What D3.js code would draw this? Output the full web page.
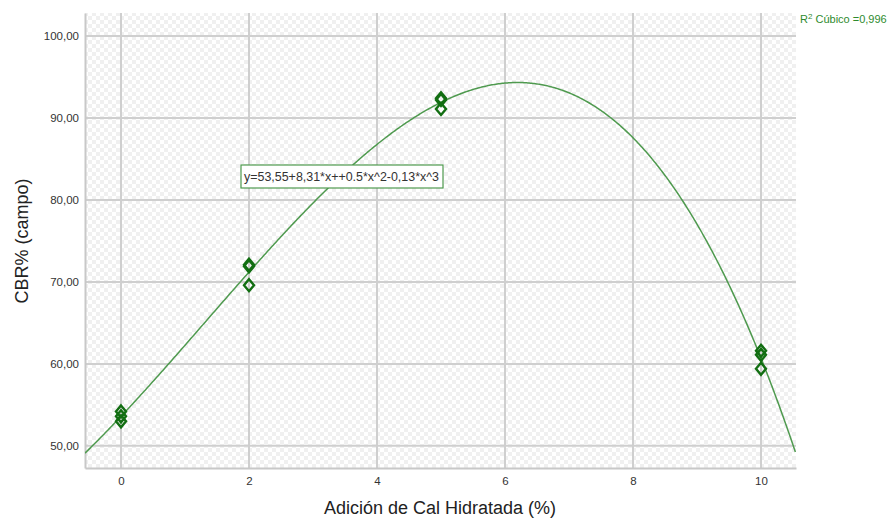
<!DOCTYPE html>
<html><head><meta charset="utf-8">
<script src="https://cdn.jsdelivr.net/npm/d3@7"></script>
<style>body{margin:0;background:#fff;}svg{display:block;font-family:"Liberation Sans",Arial,sans-serif;}</style>
</head><body>
<svg id="c" width="888" height="519"></svg>
<script>
const xValues = [0,0,0, 2,2,2, 5,5,5, 10,10,10];
const yValues = [54.2,53.6,53.0, 72.1,71.9,69.6, 92.4,92.2,91.1, 61.6,61.1,59.4];
const xTicks = [0,2,4,6,8,10];
const yTicks = [50,60,70,80,90,100];
const xTitle = "Adición de Cal Hidratada (%)";
const yTitle = "CBR% (campo)";
const equationText = "y=53,55+8,31*x++0.5*x^2-0,13*x^3";
const r2Text = "Cúbico =0,996";

// least-squares cubic fit from the data
function fitCubic(xs, ys){
  const n=4, A=[...Array(n)].map(()=>Array(n+1).fill(0));
  xs.forEach((x,k)=>{for(let i=0;i<n;i++){for(let j=0;j<n;j++)A[i][j]+=Math.pow(x,i+j);A[i][n]+=ys[k]*Math.pow(x,i);}});
  for(let i=0;i<n;i++){let p=i;for(let r=i+1;r<n;r++)if(Math.abs(A[r][i])>Math.abs(A[p][i]))p=r;[A[i],A[p]]=[A[p],A[i]];
    for(let r=0;r<n;r++){if(r===i)continue;const f=A[r][i]/A[i][i];for(let c=i;c<=n;c++)A[r][c]-=f*A[i][c];}}
  return A.map((row,i)=>row[n]/row[i]);
}
const coef = fitCubic(xValues, yValues);
const poly = x => coef[0]+coef[1]*x+coef[2]*x*x+coef[3]*x*x*x;

const svg = d3.select("#c");
const L=85, R=796, T=13, B=468;
const x = d3.scaleLinear().domain([-0.5625,10.547]).range([L,R]);
const y = d3.scaleLinear().domain([47.3,102.8]).range([B,T]);

const defs = svg.append("defs");
const pat = defs.append("pattern").attr("id","chk").attr("width",8).attr("height",8).attr("patternUnits","userSpaceOnUse");
pat.append("rect").attr("width",8).attr("height",8).attr("fill","#ffffff");
pat.append("rect").attr("width",4).attr("height",4).attr("fill","#f0f0f0");
pat.append("rect").attr("x",4).attr("y",4).attr("width",4).attr("height",4).attr("fill","#f0f0f0");
defs.append("clipPath").attr("id","clip").append("rect").attr("x",L).attr("y",T).attr("width",R-L).attr("height",B-T);

svg.append("rect").attr("x",L).attr("y",T).attr("width",R-L).attr("height",B-T).attr("fill","url(#chk)");

// gridlines
svg.append("g").selectAll("line").data(xTicks).join("line")
  .attr("x1",d=>x(d)).attr("x2",d=>x(d)).attr("y1",T).attr("y2",B)
  .attr("stroke","#cfcfcf").attr("stroke-width",2);
svg.append("g").selectAll("line").data(yTicks).join("line")
  .attr("x1",L).attr("x2",R).attr("y1",d=>y(d)).attr("y2",d=>y(d))
  .attr("stroke","#cfcfcf").attr("stroke-width",2);

// axes
const fmt = d => d3.format(".2f")(d).replace(".",",");
const xAxis = svg.append("g").attr("transform",`translate(0,${B})`)
  .call(d3.axisBottom(x).tickValues(xTicks).tickSize(0).tickPadding(9).tickFormat(d3.format("d")));
const yAxis = svg.append("g").attr("transform",`translate(${L},0)`)
  .call(d3.axisLeft(y).tickValues(yTicks).tickSize(0).tickPadding(6).tickFormat(fmt));
[xAxis,yAxis].forEach(g=>{
  g.select(".domain").attr("stroke","#c8c8c8").attr("stroke-width",2);
  g.selectAll("text").attr("font-size",11.5).attr("fill","#333").attr("font-family","Liberation Sans, Arial, sans-serif");
});

// curve
const xs = d3.range(-0.5625, 10.55, 0.02);
svg.append("path").attr("clip-path","url(#clip)")
  .datum(xs).attr("fill","none").attr("stroke","#4f9a4f").attr("stroke-width",1.5)
  .attr("d", d3.line().x(d=>x(d)).y(d=>y(poly(d))));

// markers
const pts = xValues.map((v,i)=>({x:v,y:yValues[i]}));
svg.append("g").selectAll("path").data(pts).join("path")
  .attr("transform",d=>`translate(${x(d.x)},${y(d.y)})`)
  .attr("d","M0,-6L5,0L0,6L-5,0Z")
  .attr("fill","none").attr("stroke","#126e12").attr("stroke-width",2.4);

// equation box
const eq = svg.append("g");
eq.append("rect").attr("x",241).attr("y",165).attr("width",202).attr("height",23)
  .attr("fill","#fff").attr("stroke","#4f9a4f").attr("stroke-width",1.2);
eq.append("text").attr("x",244).attr("y",181).attr("font-size",12.3).attr("fill","#333")
  .attr("textLength",195).attr("lengthAdjust","spacingAndGlyphs").text(equationText);

// R2 legend
const lg = svg.append("text").attr("x",800).attr("y",23).attr("font-size",11).attr("fill","#2e8b2e");
lg.append("tspan").text("R");
lg.append("tspan").attr("dy",-4).attr("font-size",8).text("2");
lg.append("tspan").attr("dy",4).text(" "+r2Text);

// titles
svg.append("text").attr("x",440).attr("y",514).attr("text-anchor","middle").attr("font-size",18).attr("fill","#222").text(xTitle);
svg.append("text").attr("transform","translate(28,241) rotate(-90)").attr("text-anchor","middle").attr("font-size",18).attr("fill","#222").text(yTitle);
</script>
</body></html>
